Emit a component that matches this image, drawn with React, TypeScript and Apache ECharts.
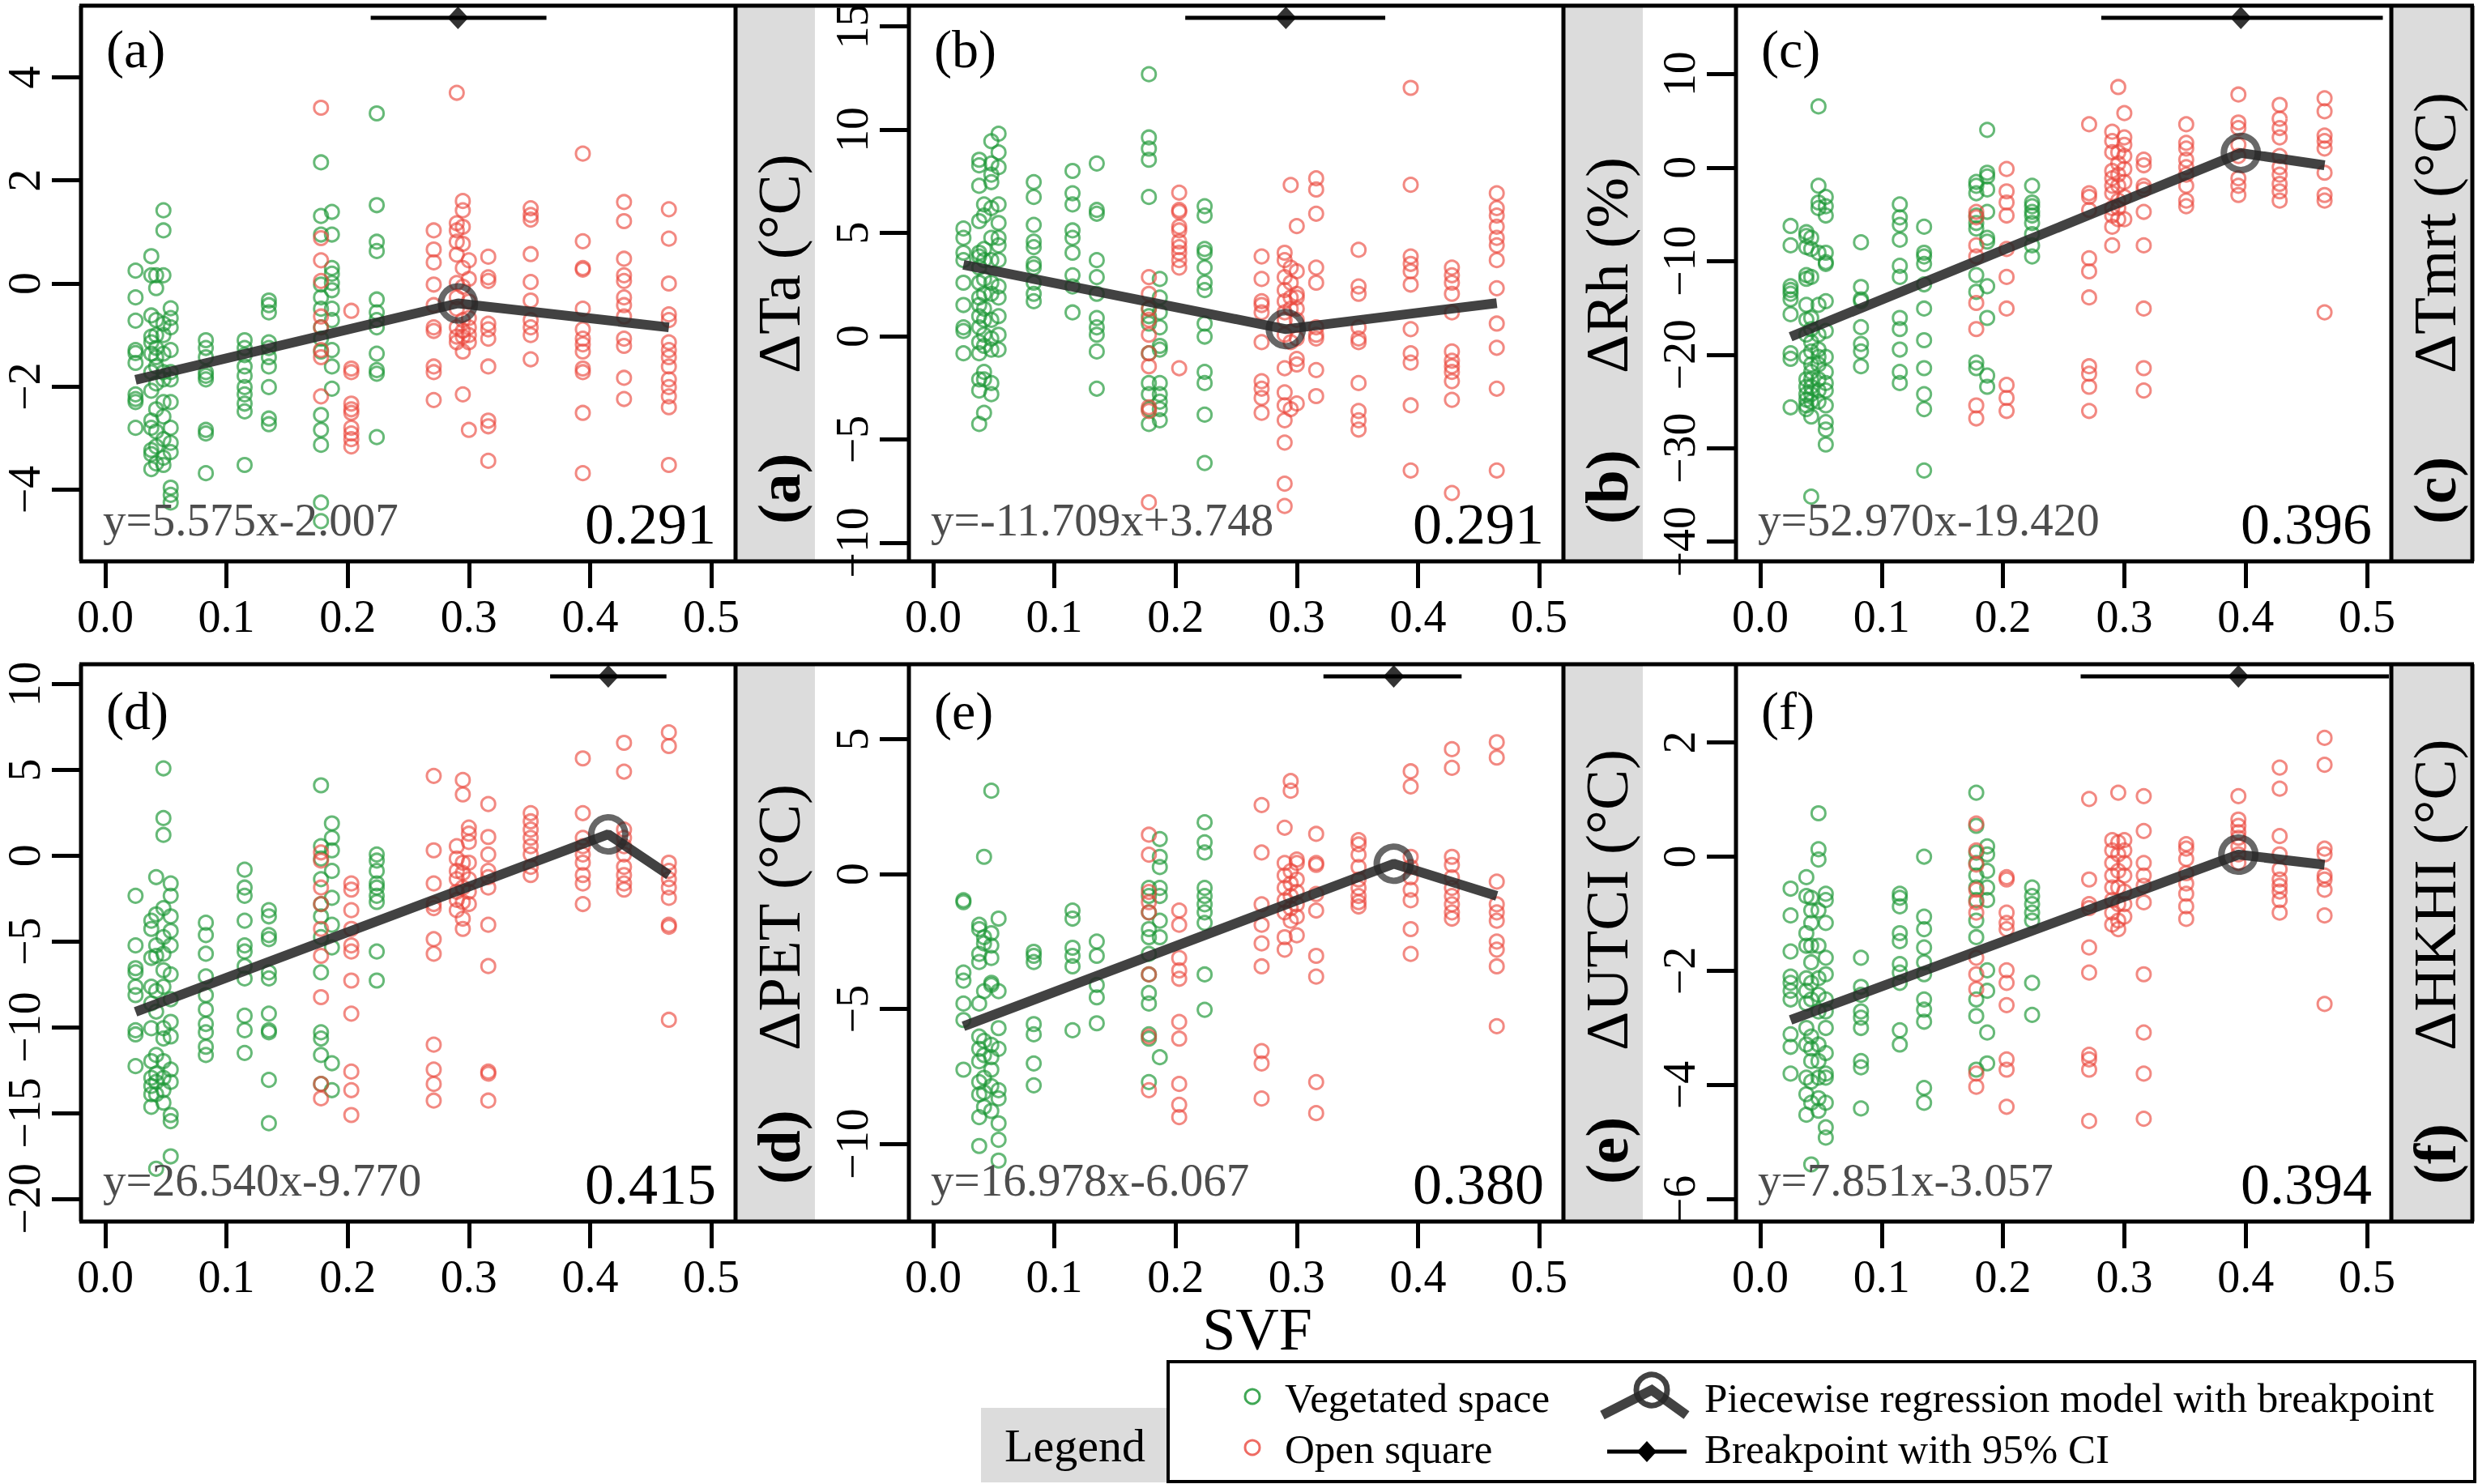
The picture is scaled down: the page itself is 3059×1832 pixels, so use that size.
import React, { useEffect, useRef } from 'react';
import * as echarts from 'echarts';

const W = 3059;
const H = 1832;
const FONT = 'Liberation Serif, serif';

// ---------- data ----------
const vegSvf = [0.025, 0.038, 0.042, 0.048, 0.054, 0.083, 0.115, 0.135, 0.178, 0.187, 0.224];
const openSvf = [0.178, 0.203, 0.271, 0.290, 0.295, 0.300, 0.316, 0.351, 0.394, 0.428, 0.465];
const xTicks = [0, 0.1, 0.2, 0.3, 0.4, 0.5];

const taVeg = [
  [0.25, -0.27, -0.72, -1.29, -1.35, -1.54, -2.15, -2.24, -2.30, -2.80],
  [0.53, 0.16, -0.62, -1.03, -1.14, -1.36, -1.72, -2.08, -2.66, -2.80, -3.23, -3.31, -3.60],
  [0.16, -0.09, -0.71, -1.00, -1.25, -1.43, -1.61, -1.94, -2.44, -2.87, -3.16, -3.49],
  [1.42, 1.03, 0.16, -0.78, -1.00, -1.36, -1.72, -1.86, -2.30, -2.58, -3.02, -3.38, -3.52],
  [-0.48, -0.67, -0.85, -1.29, -1.72, -1.86, -2.30, -2.80, -3.09, -3.27, -3.96, -4.10, -4.25],
  [-1.10, -1.25, -1.43, -1.72, -1.79, -1.86, -2.84, -2.91, -3.68],
  [-1.10, -1.25, -1.39, -1.61, -1.79, -2.01, -2.15, -2.33, -2.48, -3.52],
  [-0.33, -0.42, -0.56, -1.14, -1.25, -1.43, -1.61, -2.01, -2.62, -2.73],
  [2.35, 1.31, 0.95, -0.02, -0.27, -0.49, -0.85, -1.07, -1.32, -2.55, -2.84, -3.13, -4.25, -4.61],
  [1.39, 0.95, 0.30, 0.19, 0.01, -0.13, -0.49, -0.71, -1.29, -1.61, -2.04],
  [3.30, 1.52, 0.81, 0.63, -0.31, -0.56, -0.71, -0.85, -1.36, -1.68, -1.75, -2.98],
];
const taOpen = [
  [3.41, 0.88, 0.45, 0.05, -0.64, -0.85, -1.29, -1.43, -2.19],
  [-0.53, -1.65, -1.72, -2.33, -2.44, -2.51, -2.80, -2.91, -3.02, -3.16],
  [1.03, 0.66, 0.41, -0.02, -0.42, -0.85, -0.92, -1.61, -1.72, -2.26],
  [3.70, 1.17, 1.03, 0.81, 0.56, 0.01, -0.27, -0.49, -0.85, -1.03, -1.14],
  [1.60, 1.42, 1.10, 0.77, 0.30, -0.06, -0.71, -0.92, -1.03, -1.32, -2.15],
  [0.45, 0.09, -0.35, -0.67, -0.85, -1.00, -1.14, -2.84],
  [0.52, 0.12, 0.05, -0.78, -0.89, -1.07, -1.61, -2.66, -2.77, -3.44],
  [1.46, 1.33, 1.24, 0.57, 0.03, -0.33, -0.71, -0.85, -1.00, -1.47],
  [2.52, 0.82, 0.30, 0.27, -0.49, -0.89, -1.07, -1.18, -1.32, -1.65, -1.72, -2.51, -3.68],
  [1.58, 1.21, 0.48, 0.16, 0.05, -0.27, -0.42, -0.64, -1.07, -1.21, -1.83, -2.24],
  [1.44, 0.87, 0.00, -0.60, -0.71, -1.14, -1.29, -1.43, -1.61, -1.86, -2.01, -2.19, -2.40, -3.52],
];

const rhVeg = [
  [5.21, 4.76, 4.04, 3.68, 2.59, 1.51, 0.43, 0.25, -0.83],
  [8.54, 8.27, 7.28, 5.57, 4.04, 3.86, 3.32, 2.59, 1.87, 1.51, 0.97, 0.43, -0.29, -0.83, -2.09, -2.63, -4.25],
  [6.38, 5.84, 4.22, 3.68, 2.77, 2.05, 1.33, 0.79, 0.07, -0.47, -1.73, -2.09, -3.71],
  [9.44, 8.36, 7.82, 7.46, 6.20, 4.76, 3.68, 2.59, 2.05, 0.79, -0.11, -0.65, -2.27, -2.81],
  [9.80, 8.90, 8.18, 6.38, 5.48, 4.76, 4.40, 3.68, 2.41, 1.87, 0.97, 0.07, -0.65],
  [7.46, 6.74, 5.39, 4.58, 4.31, 3.50, 3.32, 2.59, 2.05, 1.69],
  [8.00, 6.92, 6.38, 5.12, 4.76, 4.04, 2.95, 2.41, 1.15],
  [8.36, 6.11, 5.93, 3.68, 2.86, 2.05, 0.88, 0.43, 0.07, -0.74, -2.54],
  [12.68, 9.62, 9.08, 8.54, 6.74, 1.33, 0.97, 0.61, -0.83, -2.27, -2.81, -3.53, -4.25],
  [2.77, 1.87, 1.15, 0.43, -0.47, -0.65, -2.27, -2.81, -3.17, -3.53, -4.07],
  [6.29, 5.84, 4.22, 4.04, 3.32, 2.59, 2.23, 0.61, -0.02, -1.73, -2.27, -3.80, -6.14],
];
const rhOpen = [
  [2.86, 2.05, 1.33, 0.79, 0.07, -0.83, -1.46, -3.44, -3.62, -8.04],
  [6.95, 6.11, 6.02, 5.30, 5.12, 4.58, 4.31, 4.04, 3.68, 3.32, -1.55],
  [3.86, 2.77, 1.69, 1.51, 1.15, -0.29, -2.18, -2.54, -2.99, -3.71],
  [4.04, 3.68, 2.86, 2.23, 1.69, 1.15, 0.79, 0.07, -1.55, -2.72, -3.35, -4.07, -5.15, -7.14, -8.22],
  [7.32, 3.32, 2.59, 1.87, 1.33, -0.29, -3.53],
  [5.33, 3.14, 2.05, 1.87, 1.33, 0.79, -0.11, -1.10, -1.37, -3.26],
  [7.64, 7.10, 5.93, 3.32, 2.59, 0.43, 0.07, -0.11, -1.64, -2.90],
  [4.18, 2.41, 2.05, 0.43, -0.11, -0.29, -2.27, -3.62, -4.07, -4.52],
  [12.02, 7.33, 3.86, 3.50, 3.14, 2.50, 0.34, -0.83, -1.28, -3.35, -6.50],
  [3.32, 2.95, 2.59, 2.05, 1.15, -0.74, -1.19, -1.46, -1.73, -2.18, -3.08, -7.59],
  [6.92, 6.20, 5.84, 5.30, 4.76, 4.40, 3.68, 2.32, 0.61, -0.56, -2.54, -6.50],
];

const tmrtVeg = [
  [-6.25, -8.32, -12.69, -13.09, -13.49, -14.09, -15.68, -19.86, -20.45, -25.63],
  [-6.92, -7.32, -8.52, -11.50, -11.90, -14.68, -16.27, -17.87, -20.25, -22.64, -23.44, -24.23, -24.83, -25.43, -25.83],
  [-7.52, -8.71, -11.70, -16.08, -17.27, -18.66, -19.66, -21.05, -21.85, -22.64, -23.44, -24.23, -25.03, -26.62, -35.18],
  [6.53, -1.95, -3.74, -4.34, -9.11, -14.68, -17.87, -19.46, -20.25, -21.05, -22.64, -23.84, -25.03],
  [-3.14, -4.14, -5.13, -9.11, -10.11, -10.31, -14.29, -17.47, -20.25, -21.85, -23.04, -23.84, -25.43, -27.22, -28.01, -29.61],
  [-8.00, -12.77, -14.09, -14.29, -17.07, -18.86, -19.66, -21.25],
  [-3.94, -5.33, -6.13, -7.72, -10.51, -11.70, -16.08, -17.27, -19.46, -21.85, -23.04],
  [-6.33, -9.11, -9.51, -10.31, -12.49, -15.08, -18.46, -21.45, -24.23, -25.83, -32.39],
  [-1.55, -1.95, -2.75, -5.13, -5.93, -6.53, -11.50, -13.29, -20.85, -21.45],
  [4.02, -0.56, -0.96, -2.35, -4.74, -7.52, -7.92, -12.69, -16.08, -22.24, -23.44],
  [-1.95, -3.74, -4.14, -4.74, -5.13, -5.93, -7.12, -8.32, -9.51],
];
const tmrtOpen = [
  [-4.74, -5.33, -8.32, -9.51, -14.48, -17.27, -25.43, -26.82],
  [-0.16, -2.55, -3.74, -5.13, -8.71, -11.70, -15.08, -23.24, -24.63, -26.02],
  [4.62, -2.75, -3.14, -4.54, -9.71, -11.10, -13.89, -21.25, -22.05, -23.44, -26.02],
  [3.82, 2.83, 1.63, -0.36, -1.15, -1.95, -2.75, -4.34, -5.13, -6.33, -8.32],
  [8.60, 1.63, 0.44, -0.76, -1.95, -3.54, -4.34, -5.53],
  [5.81, 3.22, 2.43, 1.23, -0.16, -1.55, -3.14, -5.53],
  [0.84, 0.24, -1.95, -2.35, -4.74, -8.32, -15.08, -21.45, -23.84],
  [4.62, 2.63, 2.03, 0.84, 0.04, -0.76, -1.95, -3.54, -4.14],
  [7.80, 4.81, 4.22, 2.43, 1.23, -1.15, -1.95, -2.94],
  [6.69, 5.21, 4.22, 3.22, 1.23, 0.04, -0.76, -1.75, -2.55, -3.54],
  [7.40, 6.01, 3.42, 2.83, 2.03, -0.56, -2.94, -3.54, -15.48],
];

const petVeg = [
  [-2.34, -5.23, -6.56, -6.80, -7.64, -8.13, -10.18, -10.42, -12.27],
  [-3.79, -4.27, -5.96, -7.64, -8.61, -10.06, -11.98, -12.95, -13.43, -13.91, -14.64],
  [-1.25, -3.42, -5.23, -5.84, -7.89, -9.09, -11.62, -12.71, -13.19, -13.91, -18.25],
  [5.09, 2.19, 1.21, -3.06, -4.75, -5.72, -6.68, -7.64, -10.06, -10.66, -11.98, -12.95, -13.67, -14.40],
  [-1.62, -2.34, -3.54, -4.39, -5.23, -6.92, -8.37, -9.69, -10.54, -12.47, -13.19, -15.12, -15.48, -17.53],
  [-3.91, -4.63, -5.72, -7.04, -8.13, -8.97, -9.81, -10.30, -11.14, -11.62],
  [-0.82, -1.86, -2.34, -3.79, -5.23, -5.59, -6.44, -7.16, -9.33, -10.18, -11.50],
  [-3.18, -3.54, -4.63, -4.87, -6.80, -7.16, -9.21, -10.18, -10.30, -13.07, -15.60],
  [4.10, 0.55, -0.17, -1.37, -2.82, -3.54, -4.75, -6.80, -10.30, -10.66, -11.62, -13.31],
  [1.88, 1.04, 0.31, -0.89, -2.46, -4.03, -5.35, -12.10, -13.67],
  [0.07, -0.29, -0.89, -1.62, -1.86, -2.34, -2.70, -5.59, -7.28],
];
const petOpen = [
  [0.19, -0.29, -1.86, -2.82, -4.27, -5.84, -8.25, -13.31, -14.15],
  [-1.62, -1.98, -3.18, -4.27, -5.23, -5.59, -7.28, -9.21, -12.59, -13.67, -15.12],
  [4.65, 0.31, -1.62, -2.82, -3.06, -4.87, -5.72, -11.02, -12.47, -13.31, -14.28],
  [0.55, -0.17, -0.89, -1.37, -2.10, -2.58, -3.18],
  [4.41, 3.57, -0.41, -1.01, -1.86, -2.70, -3.67, -4.27],
  [1.64, 1.28, 0.80, -0.41, -1.37, -2.10, -2.82],
  [3.01, 1.09, 0.07, -0.89, -1.25, -1.86, -4.03, -6.44, -12.59, -12.71, -14.28],
  [2.48, 2.00, 1.52, 1.04, 0.55, 0.07, -0.65, -1.13],
  [5.67, 2.48, 1.04, 0.55, 0.07, -0.41, -1.13, -1.62, -2.82],
  [6.58, 4.90, 1.52, 1.04, 0.55, 0.07, -0.65, -1.13, -1.62, -1.98],
  [7.19, 6.39, -0.41, -0.89, -1.37, -1.86, -2.46, -4.03, -4.15, -9.57],
];

const utciVeg = [
  [-0.97, -1.04, -3.65, -3.95, -4.80, -5.41, -7.25],
  [-1.88, -2.04, -2.96, -3.26, -4.80, -6.02, -6.48, -6.94, -7.71, -8.17, -9.01, -10.08],
  [0.64, -2.34, -2.57, -4.34, -6.18, -6.71, -7.55, -8.09, -8.63],
  [3.09, -2.19, -2.65, -3.11, -4.03, -4.11, -6.33, -6.79, -7.25, -7.86, -8.78],
  [-1.65, -4.34, -5.71, -6.48, -8.01, -8.32, -9.24, -9.85, -10.62],
  [-2.88, -3.03, -3.26, -5.56, -5.94, -7.02, -7.83],
  [-1.35, -1.65, -2.73, -3.03, -3.42, -5.79],
  [-2.50, -3.03, -4.11, -4.57, -5.53],
  [-0.51, -0.81, -1.42, -2.04, -2.34, -2.96, -3.72, -4.41, -4.80, -5.94, -6.10, -7.71],
  [1.30, 0.64, 0.26, -0.51, -0.81, -1.73, -2.34, -6.79],
  [1.92, 1.18, 0.80, -0.51, -0.81, -1.12, -1.42, -1.81, -3.72, -5.03],
];
const utciOpen = [
  [1.46, 0.72, -0.66, -1.04, -1.42, -3.72, -6.02, -8.01],
  [-1.35, -1.88, -3.11, -3.57, -3.88, -5.48, -6.10, -7.78, -8.55, -9.01],
  [2.56, 0.80, -1.12, -1.88, -2.57, -3.42, -6.56, -7.02, -8.32],
  [1.72, 0.41, -0.05, -0.51, -0.97, -1.42, -2.34, -2.80],
  [3.45, 3.09, 0.11, -0.35, -0.81, -1.27, -1.73],
  [0.54, 0.41, -0.20, -0.66, -1.12, -1.58, -2.27],
  [1.49, 0.41, 0.34, -0.74, -1.35, -3.03, -3.80, -7.71, -8.86],
  [1.26, 1.10, 0.72, 0.26, -0.20, -0.51, -0.81, -1.04, -1.20],
  [3.81, 3.25, 0.64, 0.26, -0.12, -0.58, -0.97, -2.04, -2.96],
  [4.63, 3.94, 0.64, 0.34, -0.12, -0.51, -0.81, -1.12, -1.42, -1.65],
  [4.89, 4.32, -0.28, -1.12, -1.42, -1.73, -2.50, -2.80, -3.42, -5.64],
];

const hkhiVeg = [
  [-0.56, -1.03, -1.66, -2.10, -2.21, -2.35, -2.50, -3.11, -3.33, -3.80],
  [-0.36, -0.69, -1.34, -1.56, -2.13, -2.35, -2.57, -3.00, -3.29, -3.87, -4.16, -4.52],
  [-0.72, -0.94, -1.16, -1.56, -1.85, -2.21, -2.50, -3.15, -3.36, -3.58, -3.94, -4.31, -5.39],
  [0.76, 0.13, -0.05, -0.94, -1.56, -2.13, -2.42, -2.71, -3.29, -3.58, -3.87, -4.23, -4.45],
  [-0.65, -0.76, -1.16, -1.77, -2.06, -2.50, -2.71, -3.00, -3.44, -3.80, -3.87, -4.31, -4.74, -4.92],
  [-1.77, -2.28, -2.42, -2.71, -2.82, -3.00, -3.58, -3.69, -4.41],
  [-0.65, -0.72, -0.87, -1.34, -1.48, -1.88, -2.03, -2.21, -3.04, -3.29],
  [0.00, -1.05, -1.27, -1.59, -1.85, -2.06, -2.50, -2.68, -2.89, -4.05, -4.31],
  [1.12, 0.54, 0.07, -0.11, -0.33, -0.54, -0.76, -1.12, -1.41, -2.50, -2.79, -3.73],
  [0.18, 0.04, -0.25, -0.54, -0.76, -1.99, -2.35, -3.08, -3.62],
  [-0.54, -0.69, -0.83, -0.98, -1.12, -2.21, -2.77],
];
const hkhiOpen = [
  [0.58, 0.11, -0.14, -0.58, -0.80, -0.98, -1.77, -2.06, -2.32, -3.80, -4.03],
  [-0.36, -0.40, -0.98, -1.16, -1.27, -1.99, -2.21, -2.60, -3.55, -3.73, -4.38],
  [1.01, -0.40, -0.83, -0.90, -1.59, -2.03, -3.47, -3.55, -3.73, -4.63],
  [0.29, 0.11, -0.11, -0.33, -0.54, -0.76, -0.98, -1.19],
  [1.12, 0.25, 0.04, -0.25, -0.54, -0.83, -1.12, -1.27],
  [0.29, 0.11, -0.11, -0.33, -0.61, -0.83, -1.05],
  [1.06, 0.45, -0.11, -0.33, -0.51, -0.80, -2.06, -3.08, -3.80, -4.59],
  [0.22, 0.14, -0.04, -0.29, -0.47, -0.65, -0.87, -1.09],
  [1.06, 0.65, 0.54, 0.43, 0.33, 0.18, 0.04, -0.11],
  [1.56, 1.19, 0.36, 0.04, -0.22, -0.40, -0.51, -0.61, -0.76, -0.98],
  [2.08, 1.61, 0.14, 0.04, -0.33, -0.40, -0.58, -1.03, -2.58],
];

const panelLetters = ['a', 'b', 'c', 'd', 'e', 'f'];
const varLabels = ['ΔTa (°C)', 'ΔRh (%)', 'ΔTmrt (°C)', 'ΔPET (°C)', 'ΔUTCI (°C)', 'ΔHKHI (°C)'];
const slopes = [5.575, -11.709, 52.97, 26.54, 16.978, 7.851];
const intercepts = [-2.007, 3.748, -19.42, -9.77, -6.067, -3.057];
const breakpoints = [0.291, 0.291, 0.396, 0.415, 0.38, 0.394];
const ciLow = [0.219, 0.208, 0.281, 0.367, 0.322, 0.264];
const ciHigh = [0.364, 0.373, 0.513, 0.463, 0.436, 0.518];
const fitStartX = 0.025;
const fitEndX = 0.465;
const fitEndY = [-0.85, 1.6, 0.24, -1.13, -0.81, -0.14];
const yMins = [-5.39, -10.9, -42.1, -21.33, -12.88, -6.39];
const yMaxs = [5.39, 16.0, 17.3, 11.16, 7.78, 3.37];
const yTickValues = [
  [-4, -2, 0, 2, 4],
  [-10, -5, 0, 5, 10, 15],
  [-40, -30, -20, -10, 0, 10],
  [-20, -15, -10, -5, 0, 5, 10],
  [-10, -5, 0, 5],
  [-6, -4, -2, 0, 2],
];
const vegData = [taVeg, rhVeg, tmrtVeg, petVeg, utciVeg, hkhiVeg];
const openData = [taOpen, rhOpen, tmrtOpen, petOpen, utciOpen, hkhiOpen];

// ---------- layout ----------
const colLeft = [100, 1122, 2143];
const colWidth = [808, 808, 809];
const rowTop = [7, 820];
const rowHeight = [686, 688];
const stripRight = [1006, 2028, 3052];
const X_MIN = -0.02;
const X_MAX = 0.52;

const GREEN = 'rgba(30,152,55,0.85)';
const RED = 'rgba(234,70,60,0.8)';
const DARK = 'rgba(40,40,40,0.88)';

const fmtMinus = (v: number) => (v < 0 ? '\u2212' + Math.abs(v) : String(v));
const fmtEq = (s: number, b: number) =>
  'y=' + s.toFixed(3) + 'x' + (b < 0 ? '-' : '+') + Math.abs(b).toFixed(3);

function buildOption() {
  const grid: any[] = [];
  const xAxis: any[] = [];
  const yAxis: any[] = [];
  const series: any[] = [];
  const graphic: any[] = [];

  for (let i = 0; i < 6; i++) {
    const r = Math.floor(i / 3);
    const c = i % 3;
    const left = colLeft[c];
    const top = rowTop[r];
    const w = colWidth[c];
    const h = rowHeight[r];
    const bottom = top + h;
    grid.push({ left, top, width: w, height: h, show: false });
    xAxis.push({
      gridIndex: i,
      type: 'value',
      min: X_MIN,
      max: X_MAX,
      axisLine: { show: false, onZero: false },
      axisTick: { show: true, length: 33, lineStyle: { color: '#000', width: 5 }, customValues: xTicks },
      axisLabel: {
        customValues: xTicks,
        formatter: (v: number) => v.toFixed(1),
        fontFamily: FONT,
        fontSize: 56,
        color: '#000',
        margin: 40,
      },
      splitLine: { show: false },
    });
    yAxis.push({
      gridIndex: i,
      type: 'value',
      min: yMins[i],
      max: yMaxs[i],
      axisLine: { show: false, onZero: false },
      axisTick: { show: true, length: 36, lineStyle: { color: '#000', width: 5 }, customValues: yTickValues[i] },
      axisLabel: {
        customValues: yTickValues[i],
        formatter: (v: number) => fmtMinus(v),
        rotate: 90,
        fontFamily: FONT,
        fontSize: 56,
        color: '#000',
        margin: 42,
      },
      splitLine: { show: false },
    });

    const veg: number[][] = [];
    vegSvf.forEach((x, k) => vegData[i][k].forEach((y) => veg.push([x, y])));
    const open: number[][] = [];
    openSvf.forEach((x, k) => openData[i][k].forEach((y) => open.push([x, y])));

    series.push({
      type: 'scatter', xAxisIndex: i, yAxisIndex: i, data: veg, symbol: 'circle', symbolSize: 17,
      itemStyle: { color: 'rgba(0,0,0,0)', borderColor: GREEN, borderWidth: 3 }, silent: true, z: 2,
    });
    series.push({
      type: 'scatter', xAxisIndex: i, yAxisIndex: i, data: open, symbol: 'circle', symbolSize: 17,
      itemStyle: { color: 'rgba(0,0,0,0)', borderColor: RED, borderWidth: 3 }, silent: true, z: 2,
    });
    const bp = breakpoints[i];
    const bpY = slopes[i] * bp + intercepts[i];
    const startY = slopes[i] * fitStartX + intercepts[i];
    series.push({
      type: 'line', xAxisIndex: i, yAxisIndex: i,
      data: [[fitStartX, startY], [bp, bpY], [fitEndX, fitEndY[i]]],
      symbol: 'none', lineStyle: { color: DARK, width: 12 }, silent: true, z: 3,
    });
    series.push({
      type: 'scatter', xAxisIndex: i, yAxisIndex: i, data: [[bp, bpY]], symbol: 'circle', symbolSize: 42,
      itemStyle: { color: 'rgba(0,0,0,0)', borderColor: DARK, borderWidth: 8 }, silent: true, z: 4,
    });
    const yCi = yMaxs[i] - (15 / h) * (yMaxs[i] - yMins[i]);
    series.push({
      type: 'line', xAxisIndex: i, yAxisIndex: i, data: [[ciLow[i], yCi], [ciHigh[i], yCi]],
      symbol: 'none', lineStyle: { color: '#000', width: 5 }, silent: true, z: 5,
    });
    series.push({
      type: 'scatter', xAxisIndex: i, yAxisIndex: i, data: [[bp, yCi]], symbol: 'diamond', symbolSize: [26, 28],
      itemStyle: { color: '#000' }, silent: true, z: 6,
    });

    // strip
    const sx = left + w;
    graphic.push({
      type: 'rect', shape: { x: sx, y: top, width: stripRight[c] - sx, height: h },
      style: { fill: '#dcdcdc' }, z: 1, silent: true,
    });
    graphic.push({
      type: 'text', x: sx + 53, y: bottom - 46, rotation: Math.PI / 2, z: 50,
      style: {
        text: '(' + panelLetters[i] + ')', fontFamily: FONT, fontSize: 75, fontWeight: 'bold', fill: '#000',
        textAlign: 'left', align: 'left', textVerticalAlign: 'middle', verticalAlign: 'middle',
      },
    });
    graphic.push({
      type: 'text', x: sx + 53, y: r === 0 ? bottom - 232 : bottom - 211, rotation: Math.PI / 2, z: 50,
      style: {
        text: varLabels[i], fontFamily: FONT, fontSize: 75, fill: '#000',
        textAlign: 'left', align: 'left', textVerticalAlign: 'middle', verticalAlign: 'middle',
      },
    });
    // vertical box lines
    [left, sx].forEach((lx) => {
      graphic.push({
        type: 'line', shape: { x1: lx, y1: top, x2: lx, y2: bottom },
        style: { stroke: '#000', lineWidth: 5 }, z: 60, silent: true,
      });
    });
    // panel texts
    graphic.push({
      type: 'text', x: left + 31, y: top + (r === 0 ? 20 : 24), z: 50,
      style: {
        text: '(' + panelLetters[i] + ')', fontFamily: FONT, fontSize: 66, fill: '#000',
        textAlign: 'left', align: 'left', textVerticalAlign: 'top', verticalAlign: 'top',
      },
    });
    graphic.push({
      type: 'text', x: left + 27, y: bottom - 52, z: 50,
      style: {
        text: fmtEq(slopes[i], intercepts[i]), fontFamily: FONT, fontSize: 57, fill: '#4d4d4d',
        textAlign: 'left', align: 'left', textVerticalAlign: 'middle', verticalAlign: 'middle',
      },
    });
    graphic.push({
      type: 'text', x: left + w - 24, y: bottom - 46, z: 50,
      style: {
        text: breakpoints[i].toFixed(3), fontFamily: FONT, fontSize: 72, fill: '#000',
        textAlign: 'right', align: 'right', textVerticalAlign: 'middle', verticalAlign: 'middle',
      },
    });
  }

  // row top / bottom continuous lines and right border
  for (let r = 0; r < 2; r++) {
    const t = rowTop[r];
    const b = rowTop[r] + rowHeight[r];
    [t, b].forEach((ly) => {
      graphic.push({
        type: 'line', shape: { x1: 98, y1: ly, x2: 3054, y2: ly },
        style: { stroke: '#000', lineWidth: 5 }, z: 60, silent: true,
      });
    });
    graphic.push({
      type: 'line', shape: { x1: 3052, y1: t, x2: 3052, y2: b },
      style: { stroke: '#000', lineWidth: 5 }, z: 60, silent: true,
    });
  }

  // SVF axis title
  graphic.push({
    type: 'text', x: 1552, y: 1641, z: 50,
    style: {
      text: 'SVF', fontFamily: FONT, fontSize: 74, fill: '#000',
      textAlign: 'center', align: 'center', textVerticalAlign: 'middle', verticalAlign: 'middle',
    },
  });

  // legend
  graphic.push({ type: 'rect', shape: { x: 1211, y: 1738, width: 231, height: 92 }, style: { fill: '#dcdcdc' }, z: 40 });
  graphic.push({
    type: 'rect', shape: { x: 1442, y: 1681, width: 1613, height: 148 },
    style: { fill: 'rgba(0,0,0,0)', stroke: '#000', lineWidth: 4 }, z: 41,
  });
  graphic.push({
    type: 'text', x: 1327, y: 1784, z: 50,
    style: {
      text: 'Legend', fontFamily: FONT, fontSize: 58, fill: '#000',
      textAlign: 'center', align: 'center', textVerticalAlign: 'middle', verticalAlign: 'middle',
    },
  });
  graphic.push({
    type: 'circle', shape: { cx: 1546, cy: 1724, r: 9 },
    style: { fill: 'rgba(0,0,0,0)', stroke: GREEN, lineWidth: 3 }, z: 50,
  });
  graphic.push({
    type: 'circle', shape: { cx: 1546, cy: 1787, r: 9 },
    style: { fill: 'rgba(0,0,0,0)', stroke: RED, lineWidth: 3 }, z: 50,
  });
  const legendText = (text: string, x: number, y: number) => ({
    type: 'text', x, y, z: 50,
    style: {
      text, fontFamily: FONT, fontSize: 51, fill: '#000',
      textAlign: 'left', align: 'left', textVerticalAlign: 'middle', verticalAlign: 'middle',
    },
  });
  graphic.push(legendText('Vegetated space', 1586, 1726));
  graphic.push(legendText('Open square', 1586, 1789));
  graphic.push(legendText('Piecewise regression model with breakpoint', 2104, 1726));
  graphic.push(legendText('Breakpoint with 95% CI', 2104, 1789));
  graphic.push({
    type: 'polyline', shape: { points: [[1978, 1747], [2039, 1716], [2082, 1747]] },
    style: { stroke: DARK, lineWidth: 12, fill: null }, z: 50,
  });
  graphic.push({
    type: 'circle', shape: { cx: 2039, cy: 1716, r: 19 },
    style: { fill: 'rgba(0,0,0,0)', stroke: DARK, lineWidth: 7 }, z: 51,
  });
  graphic.push({
    type: 'line', shape: { x1: 1984, y1: 1792, x2: 2082, y2: 1792 },
    style: { stroke: '#000', lineWidth: 5 }, z: 50,
  });
  graphic.push({
    type: 'polygon', shape: { points: [[2033, 1779], [2045, 1792], [2033, 1805], [2021, 1792]] },
    style: { fill: '#000' }, z: 51,
  });

  return {
    animation: false,
    backgroundColor: '#fff',
    textStyle: { fontFamily: FONT },
    grid,
    xAxis,
    yAxis,
    series,
    graphic: { elements: graphic },
  };
}

export default function App() {
  const ref = useRef<HTMLDivElement>(null);
  useEffect(() => {
    document.body.style.margin = '0';
    if (!ref.current) return;
    const chart = echarts.init(ref.current, undefined, { renderer: 'svg', width: W, height: H });
    chart.setOption(buildOption() as any);
    return () => chart.dispose();
  }, []);
  return <div ref={ref} style={{ width: W, height: H }} />;
}
